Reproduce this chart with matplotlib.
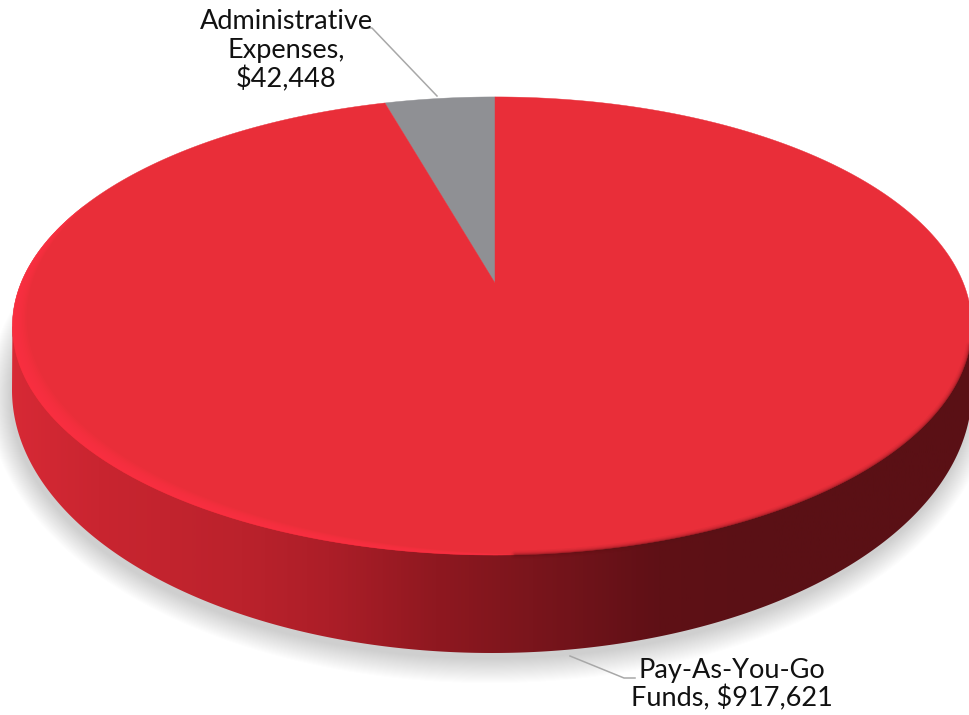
import numpy as np
import matplotlib
matplotlib.use("Agg")
import matplotlib.pyplot as plt
from matplotlib.colors import LinearSegmentedColormap
from matplotlib.patches import Polygon

categories = ["Administrative\nExpenses,\n$42,448", "Pay-As-You-Go\nFunds, $917,621"]
values = [42448, 917621]
colors = ["#8f9094", "#e92e39"]

W, H = 969, 715
fig = plt.figure(figsize=(W / 100, H / 100), dpi=100)
ax = fig.add_axes([0, 0, 1, 1])
ax.set_xlim(0, W)
ax.set_ylim(H, 0)
ax.axis("off")

# perspective projection of the pie's unit circle onto the page
X0, Y0, A, B, K = 495.0, 283.0, 474.0, 221.0, -0.1877
RIGHT_SQUEEZE = 0.988


def project(r, theta):
    u, v = r * np.sin(theta), -r * np.cos(theta)
    w = 1 + K * v
    sx = np.where(u > 0, RIGHT_SQUEEZE, 1.0)
    return np.column_stack([X0 + A * u * sx / w, Y0 + B * v / w])


def rim(t0, t1, n=400):
    return project(1.0, np.linspace(t0, t1, n))


def base(cx, cy, a, b, t0=0, t1=2 * np.pi, n=400):
    t = np.linspace(t0, t1, n)
    return np.column_stack([cx + a * np.cos(t), cy + b * np.sin(t)])


BX, BY, BA, BB = 492.0, 390.0, 480.0, 263.0

# soft ground shadow
for grow in np.linspace(24, 0, 24):
    ax.add_patch(Polygon(base(BX - 2, BY + 6, BA + grow * 0.9, BB + grow), closed=True,
                         fc="#666666", ec="none", alpha=0.010, zorder=1))

# side band with a horizontal gradient
full = rim(0, 2 * np.pi, 800)
li, ri = full[:, 0].argmin(), full[:, 0].argmax()
left_pt, right_pt = full[li], full[ri]
side_pts = np.vstack([left_pt[None], base(BX, BY, BA, BB, np.pi, 0, 400), right_pt[None]])
side_clip = Polygon(side_pts, closed=True, fc="none", ec="none", transform=ax.transData)
ax.add_patch(side_clip)
cmap = LinearSegmentedColormap.from_list(
    "side",
    [(0.00, "#d92a36"), (0.10, "#c92530"), (0.25, "#bb222c"), (0.34, "#ac1e28"),
     (0.45, "#8f1820"), (0.55, "#7a151c"), (0.68, "#5f1016"), (0.80, "#5a1015"), (1.00, "#5a1015")])
im = ax.imshow(np.linspace(0, 1, 512)[None, :], cmap=cmap, extent=[0, W, 700, 200],
               aspect="auto", zorder=2)
im.set_clip_path(side_clip)
ax.set_xlim(0, W)
ax.set_ylim(H, 0)

# top faces, sized from the values
fracs = np.array(values, float) / sum(values)
angle = 0.0
spans = []
for f in fracs:
    spans.append((angle, angle - f * 2 * np.pi))
    angle -= f * 2 * np.pi
for (t0, t1), c in zip(spans, colors):
    pts = np.vstack([project(0, 0), rim(t0, t1)])
    ax.add_patch(Polygon(pts, closed=True, fc=c, ec=c, lw=0.3, zorder=3))

# dark soft edge on the lower right of the rim
edge = rim(np.radians(100), np.radians(178), 300)
for lw, al in [(6, 0.05), (4, 0.08), (2.5, 0.12), (1.2, 0.18)]:
    ax.plot(edge[:, 0], edge[:, 1], color="#5a1015", lw=lw, alpha=al, zorder=4, solid_capstyle="round")

# bright bevel on the lower left of the rim
tt = np.radians(np.linspace(178, 292, 240))
outer = project(1.0, tt)
taper = np.sin((tt - tt[0]) / (tt[-1] - tt[0]) * np.pi) ** 0.7
for width in np.linspace(0.034, 0.006, 9):
    inner = project(1.0 - width * taper, tt)
    ax.add_patch(Polygon(np.vstack([outer, inner[::-1]]), closed=True, fc="#ff3345",
                         ec="none", alpha=0.16, zorder=4))

# labels and leader lines
font = ["Lato", "DejaVu Sans"]
ax.text(286, 51, categories[0], ha="center", va="center", fontsize=19.5, color="#111111",
        family=font, linespacing=1.17, zorder=6)
ax.text(732, 685, categories[1], ha="center", va="center", fontsize=19.5, color="#111111",
        family=font, linespacing=1.1, zorder=6)
ax.plot([362, 372, 437], [28, 28, 96], color="#a8a8a8", lw=1.1, zorder=5)
ax.plot([570, 624, 635], [656, 678, 678], color="#a8a8a8", lw=1.1, zorder=5)

fig.savefig("out.png", dpi=100, facecolor="white")
